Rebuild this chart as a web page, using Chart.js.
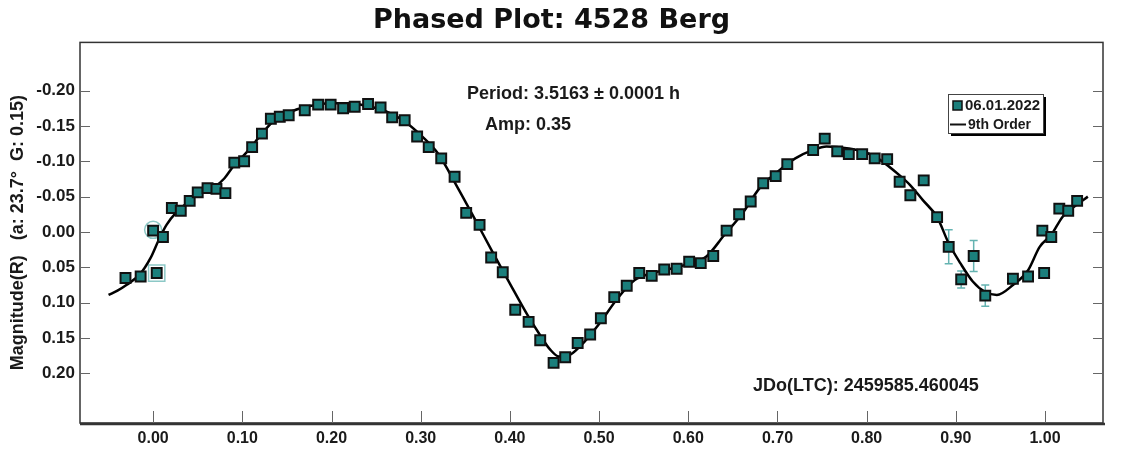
<!DOCTYPE html>
<html>
<head>
<meta charset="utf-8">
<script src="https://cdn.jsdelivr.net/npm/chart.js@4.4.0/dist/chart.umd.min.js"></script>
<style>
  body { margin: 0; background: #fff; }
  #wrap { width: 1121px; height: 450px; }
</style>
</head>
<body>
<div id="wrap"><canvas id="chart"></canvas></div>
<script>
// observations (phase, magnitude)
const phase = [-0.031, -0.014, 0.000, 0.004, 0.011, 0.021, 0.031, 0.041, 0.050, 0.061, 0.071, 0.081,
  0.091, 0.102, 0.111, 0.122, 0.132, 0.142, 0.152, 0.170, 0.185, 0.199, 0.213, 0.226, 0.241, 0.255,
  0.268, 0.282, 0.296, 0.309, 0.323, 0.338, 0.351, 0.366, 0.379, 0.392, 0.406, 0.421, 0.434, 0.449,
  0.462, 0.476, 0.490, 0.502, 0.517, 0.531, 0.545, 0.559, 0.573, 0.587, 0.601, 0.614, 0.628, 0.643,
  0.657, 0.670, 0.684, 0.698, 0.711, 0.740, 0.753, 0.767, 0.780, 0.795, 0.809, 0.823, 0.837, 0.849,
  0.864, 0.879, 0.892, 0.906, 0.920, 0.933, 0.964, 0.981, 0.997, 0.999, 1.007, 1.016, 1.026, 1.036];
const mag = [0.065, 0.063, -0.002, 0.058, 0.007, -0.034, -0.030, -0.044, -0.056, -0.062, -0.061, -0.055,
  -0.098, -0.100, -0.120, -0.139, -0.160, -0.163, -0.165, -0.172, -0.180, -0.180, -0.175, -0.177, -0.181, -0.176,
  -0.162, -0.158, -0.135, -0.120, -0.104, -0.078, -0.027, -0.010, 0.036, 0.057, 0.110, 0.127, 0.153, 0.185,
  0.177, 0.157, 0.145, 0.122, 0.092, 0.076, 0.058, 0.062, 0.053, 0.052, 0.042, 0.044, 0.034, -0.002,
  -0.025, -0.043, -0.069, -0.079, -0.096, -0.116, -0.132, -0.114, -0.110, -0.110, -0.104, -0.103, -0.071, -0.052,
  -0.073, -0.021, 0.021, 0.067, 0.034, 0.090, 0.066, 0.063, -0.002, 0.058, 0.007, -0.033, -0.030, -0.044];

// 9th order fit
const fitPhase = [-0.050, -0.040, -0.030, -0.015, -0.003, 0.006, 0.015, 0.027, 0.040, 0.055, 0.070, 0.080,
  0.090, 0.105, 0.122, 0.135, 0.154, 0.172, 0.198, 0.220, 0.240, 0.260, 0.280, 0.300, 0.320, 0.340,
  0.360, 0.380, 0.400, 0.420, 0.435, 0.445, 0.455, 0.465, 0.480, 0.500, 0.520, 0.540, 0.560, 0.580,
  0.600, 0.620, 0.640, 0.660, 0.680, 0.700, 0.720, 0.740, 0.755, 0.780, 0.800, 0.815, 0.837, 0.849,
  0.863, 0.879, 0.892, 0.905, 0.919, 0.933, 0.946, 0.964, 0.981, 0.994, 1.007, 1.020, 1.035, 1.048];
const fitMag = [0.089, 0.083, 0.075, 0.060, 0.037, 0.012, -0.010, -0.029, -0.043, -0.057, -0.065, -0.076,
  -0.093, -0.113, -0.139, -0.157, -0.170, -0.177, -0.182, -0.182, -0.178, -0.171, -0.158, -0.137, -0.110, -0.066,
  -0.020, 0.027, 0.073, 0.118, 0.148, 0.166, 0.176, 0.175, 0.160, 0.130, 0.095, 0.068, 0.058, 0.052,
  0.045, 0.035, 0.005, -0.025, -0.062, -0.085, -0.104, -0.116, -0.121, -0.118, -0.112, -0.102, -0.080, -0.066,
  -0.045, -0.021, 0.016, 0.044, 0.070, 0.085, 0.089, 0.075, 0.054, 0.021, 0.004, -0.022, -0.038, -0.050];

const errBars = [[0.892, 0.021, 0.024], [0.906, 0.067, 0.012], [0.920, 0.034, 0.022], [0.933, 0.090, 0.015]];
const circled = [[0.000, -0.003]];
const boxed = [[0.004, 0.058]];

const xTicks = [0.0, 0.1, 0.2, 0.3, 0.4, 0.5, 0.6, 0.7, 0.8, 0.9, 1.0];
const yTicks = [-0.20, -0.15, -0.10, -0.05, 0.00, 0.05, 0.10, 0.15, 0.20];

const seriesName = '06.01.2022';
const fitName = '9th Order';
const teal = '#1b7f7c';

const decor = {
    id: 'decor',
    beforeDatasetsDraw(chart) {
        const { ctx, scales: { x, y } } = chart;
        ctx.save();
        ctx.strokeStyle = '#64b3b1';
        ctx.lineWidth = 1.5;
        errBars.forEach(([px, py, e]) => {
            const cx = x.getPixelForValue(px);
            const y1 = y.getPixelForValue(py - e);
            const y2 = y.getPixelForValue(py + e);
            ctx.beginPath();
            ctx.moveTo(cx, y1); ctx.lineTo(cx, y2);
            ctx.moveTo(cx - 4, y1); ctx.lineTo(cx + 4, y1);
            ctx.moveTo(cx - 4, y2); ctx.lineTo(cx + 4, y2);
            ctx.stroke();
        });
        ctx.restore();
    },
    afterDraw(chart) {
        const { ctx, chartArea: a, scales: { x, y } } = chart;
        ctx.save();

        // frame
        ctx.strokeStyle = '#333';
        ctx.lineWidth = 1.5;
        ctx.strokeRect(a.left, a.top, a.right - a.left, a.bottom - a.top);
        ctx.lineWidth = 2.5;
        ctx.beginPath();
        ctx.moveTo(a.left, a.bottom + 1); ctx.lineTo(a.right + 2, a.bottom + 1);
        ctx.stroke();

        // inward tick marks
        ctx.strokeStyle = '#666';
        ctx.lineWidth = 1;
        ctx.beginPath();
        yTicks.forEach(v => {
            const p = Math.round(y.getPixelForValue(v)) + 0.5;
            ctx.moveTo(a.left, p); ctx.lineTo(a.left + 10, p);
            ctx.moveTo(a.right - 10, p); ctx.lineTo(a.right, p);
        });
        xTicks.forEach(v => {
            const p = Math.round(x.getPixelForValue(v)) + 0.5;
            ctx.moveTo(p, a.bottom); ctx.lineTo(p, a.bottom - 12);
        });
        ctx.stroke();

        // annotations
        ctx.fillStyle = '#1a1a1a';
        ctx.textBaseline = 'middle';
        ctx.textAlign = 'left';
        ctx.font = 'bold 18px "Liberation Sans", Arial, sans-serif';
        ctx.fillText('Period: 3.5163 \u00b1 0.0001 h', 467, 94);
        ctx.fillText('Amp: 0.35', 485, 125);
        ctx.fillText('JDo(LTC): 2459585.460045', 753, 386);

        // legend box
        const lx = 948, ly = 94, lw = 95, lh = 39;
        ctx.fillStyle = '#000';
        ctx.fillRect(lx + 3, ly + 3, lw, lh);
        ctx.fillStyle = '#fff';
        ctx.fillRect(lx, ly, lw, lh);
        ctx.strokeStyle = '#444';
        ctx.lineWidth = 1;
        ctx.strokeRect(lx + 0.5, ly + 0.5, lw, lh);

        ctx.fillStyle = teal;
        ctx.fillRect(953, 101, 9, 9);
        ctx.strokeStyle = '#111';
        ctx.lineWidth = 1.5;
        ctx.strokeRect(953, 101, 9, 9);
        ctx.beginPath();
        ctx.lineWidth = 2;
        ctx.moveTo(950, 124.5); ctx.lineTo(966, 124.5);
        ctx.stroke();

        ctx.fillStyle = '#1a1a1a';
        ctx.font = 'bold 15px "Liberation Sans", Arial, sans-serif';
        ctx.fillText(seriesName, 965, 106);
        ctx.font = 'bold 14px "Liberation Sans", Arial, sans-serif';
        ctx.fillText(fitName, 968, 125);
        ctx.restore();
    }
};

const ctx = document.getElementById('chart').getContext('2d');
const myChart = new Chart(ctx, {
    type: 'scatter',
    data: {
        datasets: [
            {
                label: seriesName,
                data: phase.map((p, i) => ({ x: p, y: mag[i] })),
                pointStyle: 'rect',
                pointRadius: 7,
                backgroundColor: teal,
                borderColor: '#111',
                borderWidth: 2,
                order: 0
            },
            {
                label: fitName,
                data: fitPhase.map((p, i) => ({ x: p, y: fitMag[i] })),
                showLine: true,
                cubicInterpolationMode: 'monotone',
                borderColor: '#000',
                borderWidth: 2.5,
                pointRadius: 0,
                order: 1
            },
            {
                label: 'marked',
                data: circled.map(d => ({ x: d[0], y: d[1] })).concat(boxed.map(d => ({ x: d[0], y: d[1] }))),
                pointStyle: ['circle', 'rect'],
                pointRadius: [8.5, 11.5],
                backgroundColor: 'rgba(0,0,0,0)',
                borderColor: '#8cc8c6',
                borderWidth: 1.5,
                order: 2
            }
        ]
    },
    options: {
        responsive: true,
        maintainAspectRatio: false,
        animation: false,
        layout: { padding: { left: 0, right: 18, top: 0, bottom: 0 } },
        plugins: {
            legend: { display: false },
            tooltip: { enabled: false },
            title: {
                display: true,
                text: 'Phased Plot: 4528 Berg',
                color: '#111',
                font: { family: '"DejaVu Sans", sans-serif', size: 27, weight: 'bold' },
                padding: { top: 5, bottom: 5 }
            }
        },
        scales: {
            x: {
                type: 'linear',
                min: -0.082,
                max: 1.065,
                grid: { display: false, drawTicks: false, tickLength: 0 },
                border: { display: false },
                afterBuildTicks: scale => { scale.ticks = xTicks.map(v => ({ value: v })); },
                afterFit: scale => { scale.height = 27; },
                ticks: {
                    padding: 6,
                    color: '#1a1a1a',
                    font: { family: '"Liberation Sans", Arial, sans-serif', size: 16, weight: 'bold' },
                    callback: v => v.toFixed(2)
                }
            },
            y: {
                type: 'linear',
                reverse: true,
                min: -0.268,
                max: 0.27,
                grid: { display: false, drawTicks: false, tickLength: 0 },
                border: { display: false },
                afterBuildTicks: scale => { scale.ticks = yTicks.map(v => ({ value: v })); },
                afterFit: scale => { scale.width = 80; },
                ticks: {
                    padding: 5,
                    color: '#1a1a1a',
                    font: { family: '"Liberation Sans", Arial, sans-serif', size: 17, weight: 'bold' },
                    callback: v => v.toFixed(2)
                },
                title: {
                    display: true,
                    text: 'Magnitude(R)   (a: 23.7\u00b0  G: 0.15)',
                    color: '#1a1a1a',
                    font: { family: '"Liberation Sans", Arial, sans-serif', size: 18, weight: 'bold' },
                    padding: { top: 7, bottom: 0 }
                }
            }
        }
    },
    plugins: [decor]
});
</script>
</body>
</html>
